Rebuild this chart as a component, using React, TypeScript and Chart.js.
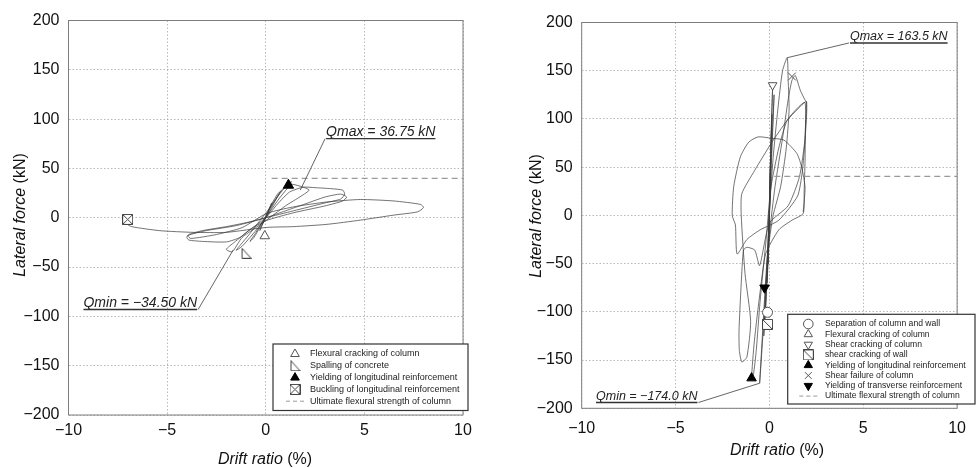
import React, { useEffect, useRef } from 'react';
import { Chart, registerables } from 'chart.js';
import { drawPoint } from 'chart.js/helpers';

Chart.register(...registerables);

const FONT = '"Liberation Sans", Arial, sans-serif';

// ---- axes ----
const X_RANGE = [-10, 10];
const X_STEP = 5;
const Y_RANGE = [-200, 200];
const Y_STEP = 50;
const X_TITLE = ['Drift ratio', ' (%)'];
const Y_TITLE = ['Lateral force', ' (kN)'];

// ---- left specimen ----
const leftLoop: [number, number][] = [
  [0, 0], [0.15, 8], [0.3, 15], [0.2, 10], [0, 2], [-0.15, -6], [-0.3, -13], [-0.2, -8], [0, 0],
  [0.3, 14], [0.6, 24], [0.75, 27], [0.5, 18], [0.1, 3], [-0.3, -10], [-0.6, -20], [-0.8, -24], [-0.5, -15], [-0.1, -2], [0.3, 12],
  [0.7, 24], [1.0, 31], [1.3, 36.75], [1.1, 30], [0.7, 20], [0.2, 6], [-0.3, -8], [-0.8, -20], [-1.2, -29], [-1.5, -33], [-1.3, -28], [-0.8, -16], [-0.3, -3], [0.2, 10], [0.6, 22], [0.9, 30],
  [1.3, 34], [1.9, 31], [2.2, 28], [1.8, 22], [1.0, 12], [0.2, 0], [-0.5, -10], [-1.2, -20], [-1.7, -34.5], [-2.0, -32], [-1.6, -25], [-0.8, -12], [0, 0], [0.6, 14], [1.2, 26], [1.9, 31],
  [2.5, 30.5], [3.3, 29.5], [3.9, 28], [4.0, 24], [3.8, 19], [3.0, 15], [1.4, 7], [0, 0], [-1, -5], [-2, -9], [-3.2, -13], [-3.9, -17], [-4.0, -20], [-3.9, -22.6], [-3.2, -24], [-2.0, -24.5], [-1.3, -20], [-0.8, -12], [0, -3], [1.4, 5], [3.0, 12], [3.9, 17], [4.1, 21], [3.8, 24], [3.0, 21], [2, 14], [1, 7], [0, 0],
  [-1.5, -8], [-3, -13], [-3.95, -18], [-3.8, -21], [-2.5, -17], [-1.2, -10], [0.05, 4.4], [1.4, 11], [3.1, 16], [4.8, 18.5], [6.5, 17], [7.85, 13.5], [8.0, 10.4], [7.7, 6], [6.5, 2.7], [4.8, -2.4], [3.1, -6.7], [1.4, -9], [0.05, -9.8], [-2, -14.8], [-3.68, -14.8], [-5.37, -13.1], [-6.8, -9], [-7.07, -5.7], [-7.0, -1.7],
];
const leftFlexCrack: [number, number][] = [[-0.05, -18.5]];
const leftSpalling: [number, number][] = [[-1.0, -36]];
const leftYieldLong: [number, number][] = [[1.15, 33]];
const leftBuckling: [number, number][] = [[-7.0, -1.7]];
const leftUltimate: [number, number][] = [[0.3, 40], [10, 40]];
const LEFT_LABELS = [
  'Flexural cracking of column',
  'Spalling of concrete',
  'Yielding of longitudinal reinforcement',
  'Buckling of longitudinal reinforcement',
  'Ultimate flexural strength of column',
];
const LEFT_QMAX = { text: 'Qmax = 36.75 kN', point: [1.75, 28], start: [3.01, 80.2], dir: 1 };
const LEFT_QMIN = { text: 'Qmin = \u221234.50 kN', point: [-1.65, -32.6], start: [-3.43, -93.1], dir: -1 };

// ---- right specimen ----
const rightLoop: [number, number][] = [
  [0, 0], [0.03, 30], [0.06, 60], [0.03, 35], [0, 5], [-0.03, -25], [-0.06, -50], [-0.03, -25], [0, 0],
  [0.08, 70], [0.14, 105], [0.1, 80], [0.02, 20], [-0.06, -40], [-0.12, -70], [-0.08, -45], [0, 0],
  [0.05, 50], [0.1, 90], [0.15, 120], [0.17, 132], [0.12, 100], [0.05, 50], [-0.02, 0], [-0.08, -40], [-0.15, -75], [-0.22, -100], [-0.26, -110], [-0.2, -80], [-0.1, -40], [0, 5],
  [0.12, 70], [0.25, 125], [0.2, 100], [0.08, 40], [-0.05, -30], [-0.18, -90], [-0.3, -125], [-0.22, -95], [-0.1, -40], [0, 5],
  [0.2, 60], [0.45, 110], [0.7, 150], [0.95, 163.5], [1.0, 140], [1.05, 110], [0.9, 70], [0.6, 30], [0.2, 0], [-0.1, -40], [-0.3, -100], [-0.45, -150], [-0.52, -174], [-0.45, -155], [-0.3, -110], [-0.15, -60], [0, -20],
  [0.3, 30], [0.7, 80], [1.0, 120], [1.2, 140], [1.38, 145], [1.64, 130], [1.9, 119.5], [1.98, 117.8], [1.92, 90], [1.9, 57], [1.85, 25], [1.8, 2],
  [1.2, -5], [0.5, -15], [-0.2, -40], [-0.5, -80], [-0.8, -130], [-0.95, -168.7], [-0.85, -165], [-0.7, -140], [-0.5, -90], [-0.2, -30], [0.09, 30], [0.5, 70], [0.95, 98.7], [1.64, 114], [1.98, 117.8], [1.9, 80], [1.6, 40],
  [1.0, 10], [0, -8], [-0.52, -52], [-0.78, -36], [-1.2, -33], [-1.38, -36], [-1.5, -70], [-1.62, -120], [-1.6, -140], [-1.47, -152], [-1.2, -147], [-1.0, -110], [-1.3, -60], [-1.5, 0],
  [-1.47, 22.5], [-0.78, 46.8], [0.09, 74.5], [0.95, 98.7], [1.5, 110], [1.9, 117], [1.9, 80], [1.75, 45], [1.5, 20], [0.5, -5], [-0.5, -15], [-1.2, -25], [-1.72, -40], [-1.81, -10], [-1.98, 0],
  [-1.9, 30], [-1.55, 60.6], [-1.1, 76], [-0.6, 81.4], [0.1, 80], [0.78, 78], [1.47, 64], [1.72, 50], [1.9, 29], [1.8, 3.5],
];
const rightSeparation: [number, number][] = [[-0.1, -100.5]];
const rightFlexCrack: [number, number][] = [[-0.1, -100]];
const rightShearCrackCol: [number, number][] = [[0.17, 135]];
const rightShearCrackWall: [number, number][] = [[-0.1, -113]];
const rightYieldLong: [number, number][] = [[-0.95, -168.7]];
const rightShearFailure: [number, number][] = [[1.2, 144]];
const rightYieldTrans: [number, number][] = [[-0.26, -75]];
const rightUltimate: [number, number][] = [[0.26, 40.5], [10, 40.5]];
const RIGHT_LABELS = [
  'Separation of column and wall',
  'Flexural cracking of column',
  'Shear cracking of column',
  'shear cracking of wall',
  'Yielding of longitudinal reinforcement',
  'Shear failure of column',
  'Yielding of transverse reinforcement',
  'Ultimate flexural strength of column',
];
const RIGHT_QMAX = { text: 'Qmax = 163.5 kN', point: [0.95, 163.5], start: [4.24, 178.8], dir: 1 };
const RIGHT_QMIN = { text: 'Qmin = \u2212174.0 kN', point: [-0.52, -174], start: [-3.78, -194], dir: -1 };

const pts = (a: [number, number][]) => a.map(([x, y]) => ({ x, y }));
const fmt = (v: any) => (Number(v) < 0 ? '\u2212' + Math.abs(Number(v)) : String(v));

function makeIcon(kind: string, size = 11): HTMLCanvasElement {
  const c = document.createElement('canvas');
  c.width = size;
  c.height = size;
  const g = c.getContext('2d')!;
  g.lineWidth = 1;
  g.strokeStyle = '#444';
  g.fillStyle = '#fff';
  const a = 0.5;
  const b = size - 0.5;
  g.beginPath();
  if (kind === 'rtri') {
    g.moveTo(a + 1, a);
    g.lineTo(a + 1, b);
    g.lineTo(b, b);
    g.closePath();
    g.fill();
    g.stroke();
  } else {
    g.rect(a, a, b - a, b - a);
    g.fill();
    g.stroke();
    g.beginPath();
    g.moveTo(a, a);
    g.lineTo(b, b);
    if (kind === 'boxx') {
      g.moveTo(b, a);
      g.lineTo(a, b);
    }
    g.stroke();
  }
  return c;
}

function drawMixed(ctx: CanvasRenderingContext2D, parts: string[], size: number, cx: number, cy: number, rotate: boolean) {
  ctx.save();
  ctx.translate(cx, cy);
  if (rotate) ctx.rotate(-Math.PI / 2);
  const fonts = [`italic ${size}px ${FONT}`, `${size}px ${FONT}`];
  let total = 0;
  const widths = parts.map((p, i) => {
    ctx.font = fonts[i];
    const w = ctx.measureText(p).width;
    total += w;
    return w;
  });
  let x = -total / 2;
  ctx.fillStyle = '#111';
  ctx.textBaseline = 'middle';
  ctx.textAlign = 'left';
  parts.forEach((p, i) => {
    ctx.font = fonts[i];
    ctx.fillText(p, x, 0);
    x += widths[i];
  });
  ctx.restore();
}

const decorPlugin = {
  id: 'decor',
  afterDraw(chart: any, _args: any, opts: any) {
    const { ctx, chartArea: a, scales } = chart;
    const xs = scales.x;
    const ys = scales.y;
    ctx.save();
    // frame
    ctx.strokeStyle = '#7d7d7d';
    ctx.lineWidth = 1;
    ctx.setLineDash([]);
    ctx.strokeRect(a.left, a.top, a.right - a.left, a.bottom - a.top);

    // annotations
    for (const an of opts.annotations) {
      const sx = xs.getPixelForValue(an.start[0]);
      const sy = ys.getPixelForValue(an.start[1]);
      const px = xs.getPixelForValue(an.point[0]);
      const py = ys.getPixelForValue(an.point[1]);
      ctx.font = `italic ${opts.annSize}px ${FONT}`;
      const w = ctx.measureText(an.text).width;
      const x0 = an.dir > 0 ? sx + 1 : sx - w - 1;
      ctx.fillStyle = '#222';
      ctx.textBaseline = 'alphabetic';
      ctx.textAlign = 'left';
      ctx.fillText(an.text, x0, sy - 2.5);
      ctx.strokeStyle = '#333';
      ctx.lineWidth = 1.4;
      ctx.beginPath();
      ctx.moveTo(x0, sy);
      ctx.lineTo(x0 + w, sy);
      ctx.stroke();
      ctx.lineWidth = 0.9;
      ctx.strokeStyle = '#555';
      ctx.beginPath();
      ctx.moveTo(sx, sy);
      ctx.lineTo(px, py);
      ctx.stroke();
    }

    // legend box
    const lg = opts.legend;
    ctx.fillStyle = '#fff';
    ctx.fillRect(lg.left, lg.top, lg.right - lg.left, lg.bottom - lg.top);
    ctx.strokeStyle = '#333';
    ctx.lineWidth = 1.2;
    ctx.strokeRect(lg.left, lg.top, lg.right - lg.left, lg.bottom - lg.top);
    let i = 0;
    chart.data.datasets.forEach((ds: any) => {
      if (!ds.label) return;
      const y = lg.rowTop + i * lg.rowGap;
      i++;
      if (ds.borderDash) {
        ctx.strokeStyle = ds.borderColor;
        ctx.lineWidth = 1;
        ctx.setLineDash([4, 3]);
        ctx.beginPath();
        ctx.moveTo(lg.iconX - 9, y);
        ctx.lineTo(lg.iconX + 9, y);
        ctx.stroke();
        ctx.setLineDash([]);
      } else {
        ctx.fillStyle = ds.pointBackgroundColor;
        ctx.strokeStyle = ds.pointBorderColor;
        ctx.lineWidth = ds.pointBorderWidth;
        drawPoint(ctx, {
          pointStyle: ds.pointStyle,
          rotation: ds.pointRotation || 0,
          radius: lg.iconR,
          borderWidth: ds.pointBorderWidth,
        } as any, lg.iconX, y);
      }
      ctx.fillStyle = '#222';
      ctx.font = `${lg.fontSize}px ${FONT}`;
      ctx.textBaseline = 'middle';
      ctx.textAlign = 'left';
      ctx.fillText(ds.label, lg.textX, y);
    });

    // axis titles
    drawMixed(ctx, Y_TITLE, 16, opts.yTitle[0], opts.yTitle[1], true);
    drawMixed(ctx, X_TITLE, 16, opts.xTitle[0], opts.xTitle[1], false);
    ctx.restore();
  },
};

function scalesCfg(yWidth: number, xHeight: number, xPad: number, yPad: number) {
  const tickFont = { family: FONT, size: 16 };
  const grid = { color: '#a6a6a6', lineWidth: 0.8, drawTicks: false };
  return {
    x: {
      type: 'linear',
      min: X_RANGE[0],
      max: X_RANGE[1],
      ticks: { stepSize: X_STEP, padding: xPad, color: '#111', font: tickFont, callback: fmt, maxRotation: 0, autoSkip: false },
      grid,
      border: { display: false, dash: [1.5, 2] },
      afterFit: (s: any) => { s.height = xHeight; },
    },
    y: {
      type: 'linear',
      min: Y_RANGE[0],
      max: Y_RANGE[1],
      ticks: { stepSize: Y_STEP, padding: yPad, color: '#111', font: tickFont, callback: fmt, autoSkip: false },
      grid,
      border: { display: false, dash: [1.5, 2] },
      afterFit: (s: any) => { s.width = yWidth; },
    },
  };
}

const openMarker = (label: string, data: [number, number][], style: any, rot = 0, r = 5.5) => ({
  label,
  data: pts(data),
  showLine: false,
  pointStyle: style,
  pointRotation: rot,
  pointRadius: r,
  pointBackgroundColor: '#fff',
  pointBorderColor: '#555',
  pointBorderWidth: 1,
});
const solidMarker = (label: string, data: [number, number][], rot = 0, r = 6) => ({
  label,
  data: pts(data),
  showLine: false,
  pointStyle: 'triangle',
  pointRotation: rot,
  pointRadius: r,
  pointBackgroundColor: '#000',
  pointBorderColor: '#000',
  pointBorderWidth: 1,
});
const dashLine = (label: string, data: [number, number][]) => ({
  label,
  data: pts(data),
  showLine: true,
  borderColor: '#9a9a9a',
  borderWidth: 1.2,
  borderDash: [6, 4],
  pointRadius: 0,
});
const loopLine = (data: [number, number][]) => ({
  data: pts(data),
  showLine: true,
  borderColor: 'rgba(60,60,60,0.85)',
  borderWidth: 0.85,
  tension: 0.2,
  pointRadius: 0,
});

function leftConfig(icons: any): any {
  return {
    type: 'scatter',
    data: {
      datasets: [
        openMarker(LEFT_LABELS[0], leftFlexCrack, 'triangle'),
        openMarker(LEFT_LABELS[1], leftSpalling, icons.rtri),
        solidMarker(LEFT_LABELS[2], leftYieldLong),
        openMarker(LEFT_LABELS[3], leftBuckling, icons.boxx),
        dashLine(LEFT_LABELS[4], leftUltimate),
        loopLine(leftLoop),
      ],
    },
    options: {
      animation: false,
      responsive: false,
      layout: { padding: { left: 0, top: 20.5, right: 27, bottom: 13 } },
      scales: scalesCfg(68.5, 40, 6, 9),
      plugins: {
        legend: { display: false },
        tooltip: { enabled: false },
        decor: {
          annSize: 14,
          annotations: [LEFT_QMAX, LEFT_QMIN],
          legend: { left: 273, top: 344, right: 468, bottom: 410.5, rowTop: 354, rowGap: 11.8, iconX: 295, iconR: 5, textX: 310, fontSize: 9 },
          yTitle: [21, 215],
          xTitle: [265, 460],
        },
      },
    },
    plugins: [decorPlugin],
  };
}

function rightConfig(icons: any): any {
  return {
    type: 'scatter',
    data: {
      datasets: [
        openMarker(RIGHT_LABELS[0], rightSeparation, 'circle', 0, 5),
        openMarker(RIGHT_LABELS[1], rightFlexCrack, 'triangle', 0, 5),
        openMarker(RIGHT_LABELS[2], rightShearCrackCol, 'triangle', 180, 5),
        openMarker(RIGHT_LABELS[3], rightShearCrackWall, icons.boxd),
        solidMarker(RIGHT_LABELS[4], rightYieldLong, 0, 5.5),
        openMarker(RIGHT_LABELS[5], rightShearFailure, 'crossRot', 0, 5.5),
        solidMarker(RIGHT_LABELS[6], rightYieldTrans, 180, 5.5),
        dashLine(RIGHT_LABELS[7], rightUltimate),
        loopLine(rightLoop),
      ],
    },
    options: {
      animation: false,
      responsive: false,
      layout: { padding: { left: 0, top: 22.5, right: 8.5, bottom: 19.7 } },
      scales: scalesCfg(91.7, 40, 11, 9),
      plugins: {
        legend: { display: false },
        tooltip: { enabled: false },
        decor: {
          annSize: 12.5,
          annotations: [RIGHT_QMAX, RIGHT_QMIN],
          legend: { left: 297.7, top: 314.3, right: 485, bottom: 404, rowTop: 324, rowGap: 10.3, iconX: 318.3, iconR: 4.8, textX: 335, fontSize: 8.6 },
          yTitle: [47, 216],
          xTitle: [287, 451],
        },
      },
    },
    plugins: [decorPlugin],
  };
}

export default function App() {
  const leftRef = useRef<HTMLCanvasElement>(null);
  const rightRef = useRef<HTMLCanvasElement>(null);
  useEffect(() => {
    const icons = { rtri: makeIcon('rtri'), boxx: makeIcon('boxx'), boxd: makeIcon('boxd') };
    const c1 = new Chart(leftRef.current!, leftConfig(icons));
    const c2 = new Chart(rightRef.current!, rightConfig(icons));
    return () => {
      c1.destroy();
      c2.destroy();
    };
  }, []);
  return (
    <div style={{ position: 'absolute', left: 0, top: 0, width: 977, height: 468, background: '#fff', overflow: 'hidden' }}>
      <canvas ref={leftRef} width={490} height={468} style={{ position: 'absolute', left: 0, top: 0, width: 490, height: 468 }} />
      <canvas ref={rightRef} width={487} height={468} style={{ position: 'absolute', left: 490, top: 0, width: 487, height: 468 }} />
    </div>
  );
}
